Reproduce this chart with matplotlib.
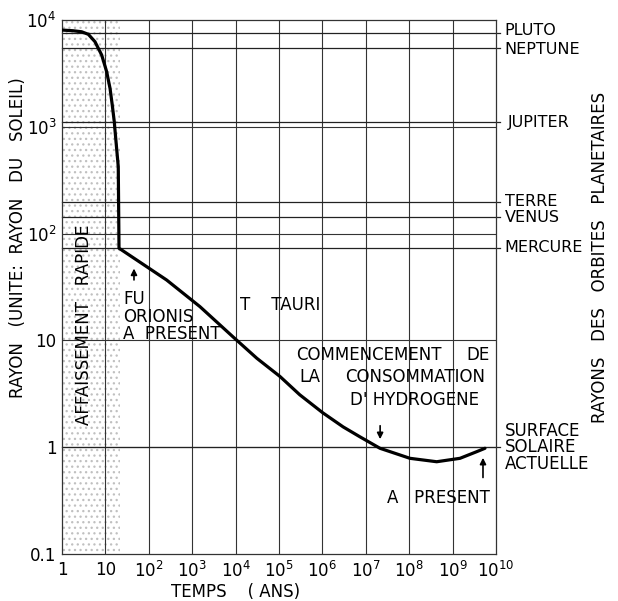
import matplotlib
matplotlib.use("Agg")
import matplotlib.pyplot as plt

# evolution du rayon solaire
temps = [1, 1.78, 2.84, 4.04, 5.75, 8.22, 10.7, 12.8, 14.4, 16.0, 17.3, 19.8, 20.6,
         257, 1510, 8710, 30900, 1.05e5, 3.0e5, 1.02e6, 3.0e6, 7.35e6,
         2.12e7, 1.04e8, 4.3e8, 1.48e9, 3.59e9, 5.57e9]
rayon = [8050, 7940, 7760, 7350, 6270, 4700, 3280, 2290, 1600, 1120, 780, 423, 73,
         36.8, 20.7, 10.8, 6.8, 4.6, 3.1, 2.1, 1.55, 1.25,
         0.977, 0.787, 0.731, 0.787, 0.908, 0.977]

# orbites planetaires (rayons solaires)
planetes = ["PLUTO", "NEPTUNE", "JUPITER", "TERRE", "VENUS", "MERCURE"]
orbites = [7500, 5500, 1100, 199, 142, 74]

x_ticks = [1, 10, 1e2, 1e3, 1e4, 1e5, 1e6, 1e7, 1e8, 1e9, 1e10]
x_labels = ["1", "10", r"$10^2$", r"$10^3$", r"$10^4$", r"$10^5$", r"$10^6$",
            r"$10^7$", r"$10^8$", r"$10^9$", r"$10^{10}$"]
y_ticks = [0.1, 1, 10, 1e2, 1e3, 1e4]
y_labels = ["0.1", "1", "10", r"$10^2$", r"$10^3$", r"$10^4$"]
affaissement = (1, 22)

plt.rcParams["font.family"] = ["DejaVu Sans"]
plt.rcParams["hatch.linewidth"] = 0.9

fig = plt.figure(figsize=(6.18, 6.01), dpi=100)
ax = fig.add_axes([0.1003, 0.0782, 0.7023, 0.8885])
ax.set_xscale("log")
ax.set_yscale("log")
ax.set_xlim(1, 1e10)
ax.set_ylim(0.1, 1e4)

gc = "#333333"
# zone d'affaissement rapide
ax.axvspan(*affaissement, facecolor="white", edgecolor="#c0c0c0",
           hatch="...", linewidth=0, zorder=0)

# grille
for xv in x_ticks[1:-1]:
    ax.axvline(xv, color=gc, lw=0.8, zorder=1)
for yv in y_ticks[1:-1]:
    ax.axhline(yv, color=gc, lw=0.8, zorder=1)

# orbites
decal = {"PLUTO": 1.06, "NEPTUNE": 0.96}
for nom, r in zip(planetes, orbites):
    ax.plot([1, 10**10.1], [r, r], color="#222222", lw=0.9,
            clip_on=False, zorder=1)
    ax.text(10**(10.2 if nom != "JUPITER" else 10.28), r * decal.get(nom, 1.0), nom,
            fontsize=11.5, va="center", ha="left")
ax.plot([1, 10**10.1], [1, 1], color="#222222", lw=0.9, clip_on=False, zorder=1)

ax.plot(temps, rayon, color="black", lw=2.3, zorder=3,
        solid_capstyle="round", solid_joinstyle="round")

ax.set_xticks(x_ticks)
ax.set_xticklabels(x_labels)
ax.set_yticks(y_ticks)
ax.set_yticklabels(y_labels)
ax.minorticks_off()
ax.tick_params(length=0, labelsize=12)
ax.tick_params(axis="x", pad=5)
ax.tick_params(axis="y", pad=4)
for s in ax.spines.values():
    s.set_linewidth(0.9)
    s.set_color(gc)

ax.text(-0.101, 0.592, "RAYON   (UNITE:  RAYON   DU   SOLEIL)", transform=ax.transAxes,
        rotation=90, fontsize=12, ha="center", va="center")
ax.text(0.40, -0.072, "TEMPS    ( ANS)", transform=ax.transAxes,
        fontsize=12, ha="center", va="center")
ax.text(1.2396, 0.556, "RAYONS   DES   ORBITES   PLANETAIRES", transform=ax.transAxes,
        rotation=90, fontsize=12, ha="center", va="center")

# annotations
ax.text(3.2, 14.1, "AFFAISSEMENT   RAPIDE", rotation=90, fontsize=12,
        ha="center", va="center", zorder=4)
ax.text(25.6, 29.5, "FU\nORIONIS\nA  PRESENT", fontsize=12, va="top", ha="left",
        linespacing=0.95, zorder=4)
ax.annotate("", xy=(45.6, 50), xytext=(45.6, 34.7),
            arrowprops=dict(arrowstyle="-|>", color="black", lw=1.2, mutation_scale=9))
ax.text(12600, 21.4, "T    TAURI", fontsize=12, va="center", ha="left")
ax.text(10**5.39, 7.3, "COMMENCEMENT", fontsize=12, va="center", ha="left")
ax.text(10**9.86, 7.3, "DE", fontsize=12, va="center", ha="right")
ax.text(10**5.48, 4.54, "LA", fontsize=12, va="center", ha="left")
ax.text(10**9.75, 4.54, "CONSOMMATION", fontsize=12, va="center", ha="right")
ax.text(10**9.6, 2.77, "D' HYDROGENE", fontsize=12, va="center", ha="right")
ax.annotate("", xy=(10**7.33, 10**0.049), xytext=(10**7.33, 10**0.227),
            arrowprops=dict(arrowstyle="-|>", color="black", lw=1.2, mutation_scale=9))
ax.annotate("", xy=(10**9.70, 0.845), xytext=(10**9.70, 0.49),
            arrowprops=dict(arrowstyle="-|>", color="black", lw=1.2, mutation_scale=9))
ax.text(10**9.86, 0.334, "A   PRESENT", fontsize=12, va="center", ha="right")
ax.text(10**10.2, 1.0, "SURFACE\nSOLAIRE\nACTUELLE", fontsize=12, va="center",
        ha="left", linespacing=0.9)

fig.savefig("out.png", dpi=100)
